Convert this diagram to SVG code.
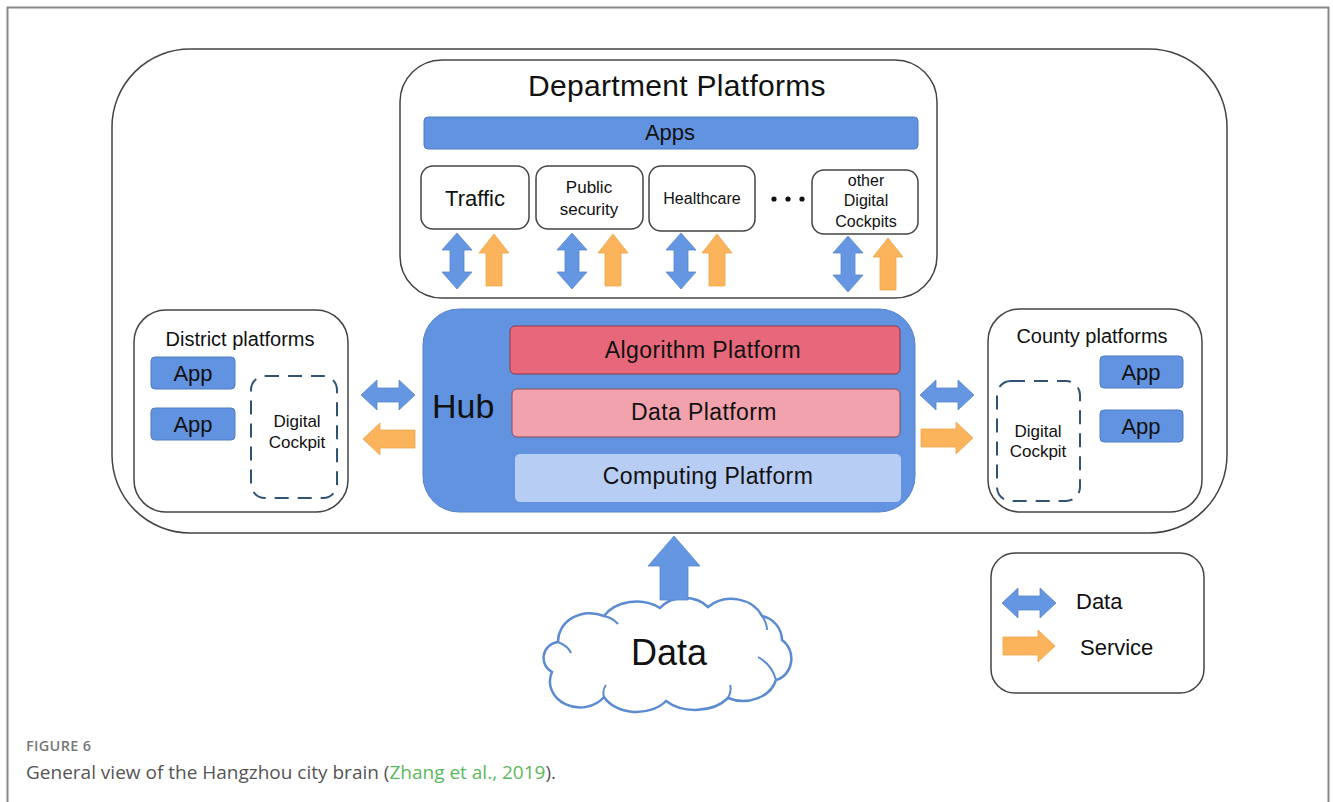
<svg xmlns="http://www.w3.org/2000/svg" width="1333" height="802" viewBox="0 0 1333 802">
<style>
.t{font-family:"Liberation Sans",Arial,sans-serif;fill:#111}
.box{fill:#fff;stroke:#444;stroke-width:1.5}
.app{fill:#6193e0;stroke:#4f7cc4;stroke-width:1}
.dash{fill:none;stroke:#2f5275;stroke-width:2;stroke-dasharray:14 9}
.blue{fill:#6496e2;stroke:#5a87cf;stroke-width:0.8}
.orange{fill:#fbb45c;stroke:#f0a548;stroke-width:0.8}
.cap{font-family:"Open Sans","Liberation Sans",sans-serif}
</style>
<defs>
<path id="vdbl" d="M0,-28 L15,-11 L7,-11 L7,11 L15,11 L0,28 L-15,11 L-7,11 L-7,-11 L-15,-11 Z"/>
<path id="vup" d="M0,-26 L15,-7 L8,-7 L8,26 L-8,26 L-8,-7 L-15,-7 Z"/>
<path id="hdbl" d="M-27,0 L-11,-15 L-11,-7 L11,-7 L11,-15 L27,0 L11,15 L11,7 L-11,7 L-11,15 Z"/>
<path id="hright" d="M26,0 L9,-16 L9,-9 L-26,-9 L-26,9 L9,9 L9,16 Z"/>
</defs>
<rect x="0" y="0" width="1333" height="802" fill="#fff"/>
<path d="M7.5,802 V7.5 H1328.5 V802" fill="none" stroke="#8a8a8a" stroke-width="2"/>

<g id="outer">
<rect x="112" y="49" width="1115" height="484" rx="78" ry="78" fill="none" stroke="#444" stroke-width="1.5"/>
</g>

<g id="department">
<rect class="box" x="400" y="60" width="537" height="238" rx="42"/>
<text class="t" x="677" y="96" font-size="30" text-anchor="middle" letter-spacing="0.3">Department Platforms</text>
<rect class="app" x="424" y="117" width="494" height="32" rx="4"/>
<text class="t" x="670" y="140" font-size="22" text-anchor="middle">Apps</text>
</g>
<g id="traffic">
<rect class="box" x="421" y="166" width="108" height="63" rx="12"/>
<text class="t" x="475" y="206" font-size="22" text-anchor="middle">Traffic</text>
</g>
<g id="public-security">
<rect class="box" x="536" y="166" width="107" height="63" rx="12"/>
<text class="t" x="589" y="193" font-size="17" text-anchor="middle">Public</text>
<text class="t" x="589" y="215" font-size="17" text-anchor="middle">security</text>
</g>
<g id="healthcare">
<rect class="box" x="649" y="166" width="106" height="65" rx="12"/>
<text class="t" x="702" y="204" font-size="16" text-anchor="middle">Healthcare</text>
</g>
<g id="dots">
<circle cx="774" cy="199" r="2.6" fill="#111"/>
<circle cx="788" cy="199" r="2.6" fill="#111"/>
<circle cx="802" cy="199" r="2.6" fill="#111"/>
</g>
<g id="other-cockpits">
<rect class="box" x="812" y="170" width="106" height="64" rx="12"/>
<text class="t" x="866" y="186" font-size="16" text-anchor="middle">other</text>
<text class="t" x="866" y="206" font-size="16" text-anchor="middle">Digital</text>
<text class="t" x="866" y="227" font-size="16" text-anchor="middle">Cockpits</text>
</g>

<g id="district">
<rect class="box" x="134" y="310" width="214" height="202" rx="32"/>
<text class="t" x="240" y="346" font-size="20" text-anchor="middle">District platforms</text>
<rect class="app" x="151" y="357" width="84" height="32" rx="4"/>
<text class="t" x="193" y="381" font-size="22" text-anchor="middle">App</text>
<rect class="app" x="151" y="408" width="84" height="32" rx="4"/>
<text class="t" x="193" y="432" font-size="22" text-anchor="middle">App</text>
<rect class="dash" x="251" y="376" width="86" height="122" rx="14"/>
<text class="t" x="297" y="427" font-size="17" text-anchor="middle">Digital</text>
<text class="t" x="297" y="448" font-size="17" text-anchor="middle">Cockpit</text>
</g>

<g id="hub">
<rect x="423" y="309" width="492" height="203" rx="36" fill="#6193e1" stroke="#5581cc" stroke-width="1"/>
<text class="t" x="432" y="418" font-size="34">Hub</text>
<rect x="510" y="326" width="390" height="48" rx="5" fill="#e8687b" stroke="#8a3a48" stroke-width="1"/>
<text class="t" x="703" y="358" font-size="23" text-anchor="middle" letter-spacing="0.4">Algorithm  Platform</text>
<rect x="512" y="389" width="388" height="48" rx="5" fill="#f2a2ad" stroke="#8a4a55" stroke-width="1"/>
<text class="t" x="704" y="420" font-size="23" text-anchor="middle" letter-spacing="0.4">Data  Platform</text>
<rect x="515" y="454" width="386" height="48" rx="5" fill="#b8cdf3"/>
<text class="t" x="708" y="484" font-size="23" text-anchor="middle" letter-spacing="0.4">Computing  Platform</text>
</g>

<g id="county">
<rect class="box" x="988" y="309" width="214" height="203" rx="32"/>
<text class="t" x="1092" y="343" font-size="20" text-anchor="middle">County platforms</text>
<rect class="app" x="1100" y="356" width="83" height="32" rx="4"/>
<text class="t" x="1141" y="380" font-size="22" text-anchor="middle">App</text>
<rect class="app" x="1100" y="410" width="83" height="32" rx="4"/>
<text class="t" x="1141" y="434" font-size="22" text-anchor="middle">App</text>
<rect class="dash" x="997" y="381" width="83" height="120" rx="14"/>
<text class="t" x="1038" y="437" font-size="17" text-anchor="middle">Digital</text>
<text class="t" x="1038" y="457" font-size="17" text-anchor="middle">Cockpit</text>
</g>

<g id="data-cloud">
<path d="M552,672 A16,16 0 0 1 558,642 A32,28 0 0 1 604,616 A38,30 0 0 1 660,608 A30,24 0 0 1 708,607 A34,30 0 0 1 762,616 A25,25 0 0 1 782,640 A20,22 0 0 1 776,680 A34,28 0 0 1 728,698 A40,28 0 0 1 666,701 A36,26 0 0 1 604,697 A30,26 0 0 1 552,672 Z" fill="#fff" stroke="#5b8bd0" stroke-width="2.5"/>
<path d="M558,642 Q568,646 571,653 M604,616 Q613,618 618,624 M762,616 Q767,623 767,630 M776,680 Q772,665 758,657 M728,698 Q732,691 730,685 M604,697 Q602,690 606,685" fill="none" stroke="#5b8bd0" stroke-width="2"/>
<text class="t" x="669" y="665" font-size="36" text-anchor="middle">Data</text>
</g>

<g id="legend">
<rect class="box" x="991" y="553" width="213" height="140" rx="24"/>
<use href="#hdbl" class="blue" transform="translate(1029,603)"/>
<text class="t" x="1076" y="609" font-size="22">Data</text>
<use href="#hright" class="orange" transform="translate(1029,646)"/>
<text class="t" x="1080" y="655" font-size="22">Service</text>
</g>

<g id="connectors">
<use href="#vdbl" class="blue" transform="translate(457,261)"/>
<use href="#vup" class="orange" transform="translate(494,260)"/>
<use href="#vdbl" class="blue" transform="translate(572,261)"/>
<use href="#vup" class="orange" transform="translate(613,260)"/>
<use href="#vdbl" class="blue" transform="translate(681,261)"/>
<use href="#vup" class="orange" transform="translate(717,260)"/>
<use href="#vdbl" class="blue" transform="translate(848,264)"/>
<use href="#vup" class="orange" transform="translate(888,264)"/>
<use href="#hdbl" class="blue" transform="translate(388,395)"/>
<use href="#hright" class="orange" transform="translate(389,439) rotate(180)"/>
<use href="#hdbl" class="blue" transform="translate(947,395)"/>
<use href="#hright" class="orange" transform="translate(947,438)"/>
<path class="blue" d="M674,536 L700,566 L688,566 L688,600 L660,600 L660,566 L648,566 Z"/>
</g>

<g id="caption">
<text class="cap" x="26" y="751" font-size="14.5" fill="#777" font-weight="600" letter-spacing="0.3">FIGURE 6</text>
<text class="cap" x="26" y="779" font-size="19" fill="#555">General view of the Hangzhou city brain (<tspan fill="#5cb85c">Zhang et al., 2019</tspan>).</text>
</g>
</svg>
